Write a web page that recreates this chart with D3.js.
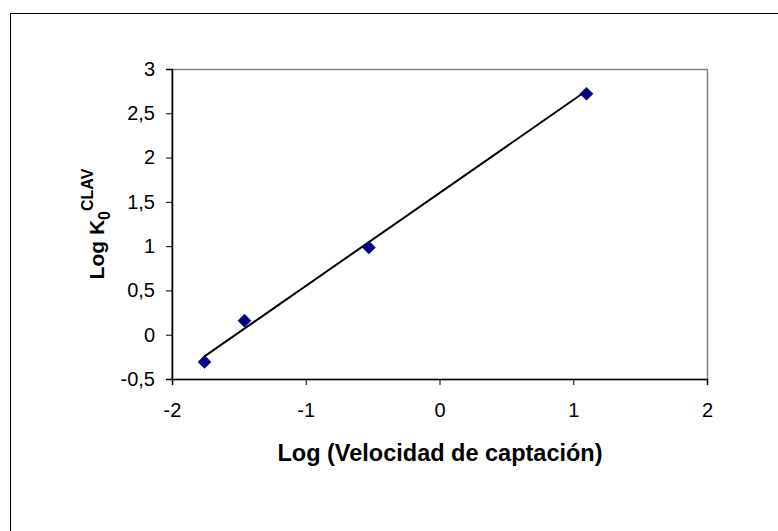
<!DOCTYPE html>
<html>
<head>
<meta charset="utf-8">
<script src="https://cdn.jsdelivr.net/npm/d3@7"></script>
<style>
  body { margin: 0; background: #fff; }
  svg { display: block; font-family: Arial, "Liberation Sans", sans-serif; }
</style>
</head>
<body>
<svg id="chart" width="778" height="531"></svg>
<script>
// Data
const xValues = [-1.757, -1.458, -0.528, 1.099];
const yValues = [-0.307, 0.159, 0.985, 2.72];
const trendSlope = 1.05;
const trendIntercept = 1.60;
const xTicks = [-2, -1, 0, 1, 2];
const yTicks = [-0.5, 0, 0.5, 1, 1.5, 2, 2.5, 3];
const xTitle = "Log (Velocidad de captación)";
const yTitleMain = "Log K";
const yTitleSub = "0";
const yTitleSup = "CLAV";

const svg = d3.select("#chart");
const plot = { left: 172, top: 69, right: 707, bottom: 379 };

// outer frame
svg.append("rect")
  .attr("x", 10.5).attr("y", 13.5).attr("width", 790).attr("height", 540)
  .attr("fill", "none").attr("stroke", "#000").attr("stroke-width", 1);

const x = d3.scaleLinear().domain([-2, 2]).range([plot.left, plot.right]);
const y = d3.scaleLinear().domain([-0.5, 3]).range([plot.bottom, plot.top]);

// plot area border (grey top/right)
svg.append("rect")
  .attr("x", plot.left).attr("y", plot.top + 0.5)
  .attr("width", plot.right - plot.left + 0.5).attr("height", plot.bottom - plot.top)
  .attr("fill", "#fff").attr("stroke", "#808080").attr("stroke-width", 1.5);

const fmt = d => String(d).replace(".", ",");

const xAxis = svg.append("g")
  .attr("transform", `translate(0,${plot.bottom})`)
  .call(d3.axisBottom(x).tickValues(xTicks).tickFormat(fmt).tickSize(6).tickPadding(18));
const yAxis = svg.append("g")
  .attr("transform", `translate(${plot.left},0)`)
  .call(d3.axisLeft(y).tickValues(yTicks).tickFormat(fmt).tickSize(6).tickPadding(11));

[xAxis, yAxis].forEach(g => {
  g.selectAll(".domain").attr("stroke", "#000").attr("stroke-width", 1.5);
  g.selectAll(".tick line").attr("stroke", "#000").attr("stroke-width", 1);
  g.selectAll(".tick text").attr("fill", "#000")
    .style("font-size", "20px").style("font-family", "Arial, 'Liberation Sans', sans-serif");
});

// trend line
const xMin = d3.min(xValues), xMax = d3.max(xValues);
svg.append("line")
  .attr("x1", x(xMin)).attr("y1", y(trendSlope * xMin + trendIntercept))
  .attr("x2", x(xMax)).attr("y2", y(trendSlope * xMax + trendIntercept))
  .attr("stroke", "#000").attr("stroke-width", 2);

// markers (diamonds)
const diamond = d3.symbol().type(d3.symbolDiamond2).size(110);
svg.selectAll(".pt").data(xValues.map((v, i) => [v, yValues[i]]))
  .enter().append("path")
  .attr("class", "pt")
  .attr("d", diamond)
  .attr("transform", d => `translate(${x(d[0])},${y(d[1])})`)
  .attr("fill", "#000080").attr("stroke", "#000080").attr("stroke-width", 0.5);

// x title
svg.append("text")
  .attr("x", 440).attr("y", 461)
  .attr("text-anchor", "middle")
  .style("font-size", "23.5px").style("font-weight", "bold")
  .text(xTitle);

// y title
const yt = svg.append("text")
  .attr("transform", `translate(104,${(plot.top + plot.bottom) / 2}) rotate(-90)`)
  .attr("text-anchor", "middle")
  .style("font-size", "21px").style("font-weight", "bold");
yt.append("tspan").text(yTitleMain);
yt.append("tspan").attr("dy", 6).style("font-size", "16px").text(yTitleSub);
yt.append("tspan").attr("dy", -17).style("font-size", "16px").text(yTitleSup);
</script>
</body>
</html>
